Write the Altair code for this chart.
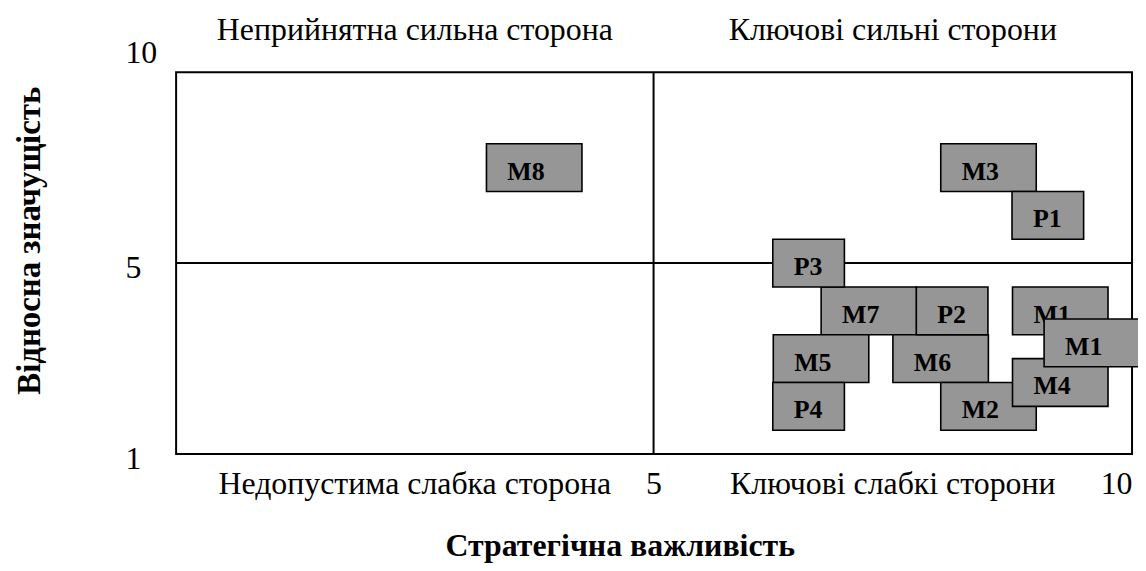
import altair as alt
import pandas as pd

# ---- data ----
box_names = ["M8", "M3", "P1", "P3", "M7", "P2", "M1", "M5", "M6", "P4", "M2", "M4", "M1"]
box_importance = [4.0, 8.5, 9.12, 6.62, 7.25, 8.12, 9.25, 6.75, 8.0, 6.62, 8.5, 9.25, 9.58]
box_significance = [7.5, 7.5, 6.25, 5.0, 4.0, 4.0, 4.0, 3.0, 3.0, 2.0, 2.0, 2.5, 3.33]
box_layer = [0, 0, 0, 0, 0, 0, 0, 0, 0, 0, 0, 0, 1]

quadrant_labels = ["Неприйнятна сильна сторона", "Ключові сильні сторони",
                   "Недопустима слабка сторона", "Ключові слабкі сторони"]
quadrant_x = [3.0, 7.5, 3.0, 7.5]
quadrant_side = ["top", "top", "bottom", "bottom"]

x_ticks = [5, 10]
y_ticks = [10, 5, 1]
midlines = [5]

SERIF = "Liberation Serif"
BOX_FILL = "#969696"

boxes = pd.DataFrame({"name": box_names, "imp": box_importance,
                      "sig": box_significance, "layer": box_layer})
quads = pd.DataFrame({"label": quadrant_labels, "qx": quadrant_x, "side": quadrant_side})
yt = pd.DataFrame({"v": y_ticks})
mid = pd.DataFrame({"v": midlines})

W, H = 961, 384
xs = alt.Scale(domain=[1, 5, 10], range=[0, 480, W], nice=False, zero=False)
ys = alt.Scale(domain=[1, 5, 10], range=[H, 192, 0], nice=False, zero=False)

x_axis = alt.Axis(values=x_ticks, format="d", title="Стратегічна важливість",
                  domain=False, ticks=False, tickSize=0, grid=False,
                  labelFont=SERIF, labelFontSize=32, labelColor="black",
                  labelBaseline="alphabetic", labelPadding=40, labelFlush=True,
                  labelOverlap=False,
                  titleFont=SERIF, titleFontSize=32, titleFontWeight="bold",
                  titleColor="black", titleX=446, titleY=102,
                  titleAlign="center", titleBaseline="alphabetic")
y_axis = alt.Axis(title="Відносна значущість", labels=False, domain=False,
                  ticks=False, grid=False,
                  titleFont=SERIF, titleFontSize=33, titleFontWeight="bold",
                  titleColor="black", titleAngle=270, titleX=-147, titleY=169,
                  titleAlign="center", titleBaseline="middle")


def X(f):
    return alt.X(f, type="quantitative", scale=xs, axis=x_axis)


def Y(f):
    return alt.Y(f, type="quantitative", scale=ys, axis=y_axis)


vline = alt.Chart(mid).mark_rule(color="black", strokeWidth=2).encode(x=X("v"))
hline = alt.Chart(mid).mark_rule(color="black", strokeWidth=2).encode(y=Y("v"))


def rect_layer(expr, half_w):
    return alt.Chart(boxes).transform_filter(expr).mark_rect(
        fill=BOX_FILL, stroke="black", strokeWidth=1.6,
        xOffset=-half_w, x2Offset=half_w, yOffset=-24, y2Offset=24
    ).encode(x=X("imp"), x2=alt.X2("imp"), y=Y("sig"), y2=alt.Y2("sig"))


def text_layer(expr, dx):
    return alt.Chart(boxes).transform_filter(expr).mark_text(
        align="left", baseline="alphabetic", dx=dx, dy=12,
        font=SERIF, fontWeight="bold", fontSize=26, color="black"
    ).encode(x=X("imp"), y=Y("sig"), text="name:N")


is_m0 = "datum.layer == 0 && substring(datum.name, 0, 1) == 'M'"
is_p = "substring(datum.name, 0, 1) == 'P'"
is_top = "datum.layer == 1"

q_top = alt.Chart(quads).transform_filter("datum.side == 'top'").transform_calculate(
    qy="10").mark_text(align="center", baseline="alphabetic", dy=-32,
                       font=SERIF, fontSize=32, color="black").encode(
    x=X("qx"), y=Y("qy:Q"), text="label:N")
q_bot = alt.Chart(quads).transform_filter("datum.side == 'bottom'").transform_calculate(
    qy="1").mark_text(align="center", baseline="alphabetic", dy=40,
                      font=SERIF, fontSize=32, color="black").encode(
    x=X("qx"), y=Y("qy:Q"), text="label:N")

yt_hi = alt.Chart(yt).transform_filter("datum.v == 10").mark_text(
    align="left", baseline="alphabetic", dy=-9, font=SERIF, fontSize=32, color="black"
).encode(x=alt.value(-51), y=Y("v"), text="v:N")
yt_lo = alt.Chart(yt).transform_filter("datum.v != 10").mark_text(
    align="left", baseline="alphabetic", dy=15, font=SERIF, fontSize=32, color="black"
).encode(x=alt.value(-51), y=Y("v"), text="v:N")

chart = alt.layer(
    vline, hline,
    rect_layer(is_m0, 48), rect_layer(is_p, 36),
    text_layer(is_m0, -27), text_layer(is_p, -15),
    rect_layer(is_top, 48), text_layer(is_top, -27),
    q_top, q_bot, yt_hi, yt_lo,
).properties(
    width=W, height=H,
    autosize=alt.AutoSizeParams(type="none"),
    padding={"left": 169, "top": 63, "right": 6, "bottom": 108},
    background="white",
).configure_view(stroke="black", strokeWidth=2)

chart.save("out.html", embed_options={"renderer": "svg", "actions": False})
